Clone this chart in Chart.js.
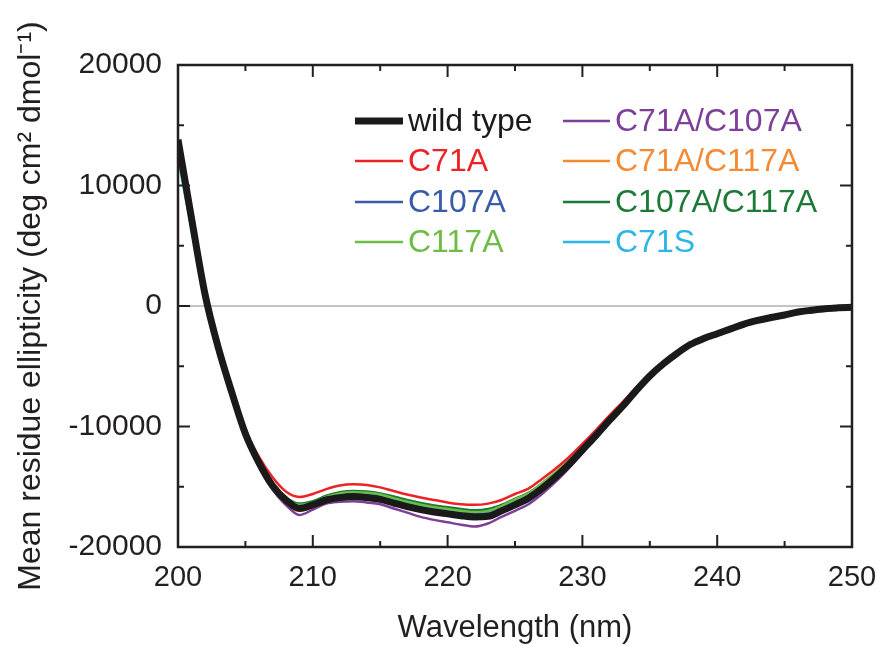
<!DOCTYPE html>
<html>
<head>
<meta charset="utf-8">
<script src="https://cdn.jsdelivr.net/npm/chart.js@4.4.0/dist/chart.umd.min.js"></script>
<style>
  html, body { margin: 0; padding: 0; background: #fff; }
  #wrap { width: 882px; height: 646px; }
</style>
</head>
<body>
<div id="wrap"><canvas id="cd"></canvas></div>
<script>
// wavelength, nm
const wavelengths = [200, 201, 202, 203, 204, 205, 206, 207, 208, 209,
  210, 211, 212, 213, 214, 215, 216, 217, 218, 219,
  220, 221, 222, 223, 224, 225, 226, 227, 228, 229,
  230, 231, 232, 233, 234, 235, 236, 237, 238, 239,
  240, 241, 242, 243, 244, 245, 246, 247, 248, 249, 250];

// mean residue ellipticity, deg cm2 dmol-1
const wildType = [13800, 7300, 1000, -3500, -7200, -10600, -13000, -14900, -16100, -16800,
  -16500, -16100, -15900, -15800, -15900, -16050, -16350, -16650, -16900, -17100,
  -17250, -17400, -17500, -17450, -17000, -16500, -15950, -15150, -14200, -13150,
  -11950, -10750, -9500, -8300, -7000, -5800, -4800, -3950, -3200, -2700,
  -2300, -1900, -1500, -1200, -950, -750, -500, -350, -220, -150, -100];
const c71a = [13300, 7000, 900, -3400, -7000, -10300, -12500, -14200, -15400, -15850,
  -15600, -15200, -14900, -14800, -14850, -15050, -15350, -15650, -15900, -16100,
  -16300, -16450, -16500, -16400, -16100, -15600, -15150, -14350, -13500, -12550,
  -11450, -10300, -9100, -7950, -6750, -5600, -4700, -3900, -3200, -2650,
  -2250, -1850, -1500, -1200, -950, -700, -500, -350, -220, -150, -100];
const c107a = [13000, 6900, 800, -3600, -7300, -10700, -13100, -15000, -16150, -16700,
  -16400, -16000, -15750, -15650, -15750, -15900, -16200, -16500, -16750, -16950,
  -17100, -17250, -17300, -17250, -16850, -16350, -15800, -15000, -14100, -13050,
  -11850, -10650, -9450, -8250, -6950, -5750, -4750, -3950, -3200, -2700,
  -2300, -1900, -1500, -1200, -950, -750, -500, -350, -220, -150, -100];
const c117a = [12800, 6800, 700, -3700, -7300, -10600, -12900, -14800, -16000, -16500,
  -16300, -15850, -15550, -15450, -15500, -15650, -15950, -16250, -16500, -16700,
  -16850, -17000, -17100, -17000, -16600, -16050, -15550, -14700, -13800, -12800,
  -11650, -10500, -9300, -8150, -6900, -5700, -4750, -3950, -3200, -2700,
  -2300, -1900, -1500, -1200, -950, -750, -500, -350, -220, -150, -100];
const c71aC107a = [13200, 7100, 900, -3600, -7400, -10800, -13300, -15200, -16500, -17350,
  -16900, -16400, -16250, -16200, -16300, -16450, -16800, -17150, -17500, -17750,
  -17950, -18150, -18300, -18050, -17500, -17000, -16450, -15600, -14600, -13450,
  -12200, -10950, -9650, -8400, -7050, -5850, -4850, -4000, -3250, -2700,
  -2300, -1900, -1500, -1200, -950, -750, -500, -350, -220, -150, -100];
const c71aC117a = [12900, 6900, 800, -3700, -7400, -10800, -13200, -15100, -16500, -17000,
  -16700, -16200, -15950, -15850, -15950, -16100, -16400, -16700, -16950, -17150,
  -17300, -17450, -17500, -17400, -17000, -16450, -15900, -15100, -14150, -13100,
  -11900, -10700, -9450, -8250, -6950, -5750, -4800, -3950, -3200, -2700,
  -2300, -1900, -1500, -1200, -950, -750, -500, -350, -220, -150, -100];
const c107aC117a = [13100, 7000, 900, -3500, -7200, -10500, -12800, -14700, -15900, -16400,
  -16200, -15750, -15450, -15350, -15400, -15550, -15800, -16100, -16350, -16550,
  -16700, -16850, -16950, -16850, -16500, -16000, -15500, -14750, -13850, -12850,
  -11700, -10550, -9350, -8200, -6900, -5700, -4750, -3950, -3200, -2700,
  -2300, -1900, -1500, -1200, -950, -750, -500, -350, -220, -150, -100];
const c71s = [12300, 6400, 500, -3800, -7400, -10700, -13000, -14900, -16000, -16600,
  -16350, -15950, -15700, -15600, -15650, -15800, -16100, -16400, -16650, -16850,
  -17000, -17100, -17150, -17050, -16700, -16200, -15700, -14950, -14000, -13000,
  -11850, -10650, -9450, -8250, -6950, -5750, -4750, -3950, -3200, -2700,
  -2300, -1900, -1500, -1200, -950, -750, -500, -350, -220, -150, -100];

const seriesLabels = ['wild type', 'C71A', 'C107A', 'C117A',
  'C71A/C107A', 'C71A/C117A', 'C107A/C117A', 'C71S'];
const seriesValues = [wildType, c71a, c107a, c117a, c71aC107a, c71aC117a, c107aC117a, c71s];
const seriesColors = ['#1a1a1a', '#ec2227', '#3a5ca8', '#6dbd45',
  '#7d3f98', '#f58a32', '#1b7a35', '#2cb5e6'];

const xTicks = [200, 210, 220, 230, 240, 250];
const yTicks = [-20000, -10000, 0, 10000, 20000];

const FONT = '"Liberation Sans", Arial, sans-serif';
const INK = '#231f20';

// frame, inward ticks (major + minor) on all four sides, zero line
const framePlugin = {
    id: 'frame',
    beforeDatasetsDraw(chart) {
        const { ctx, chartArea: a, scales } = chart;
        const y0 = scales.y.getPixelForValue(0);
        ctx.save();
        ctx.strokeStyle = '#8a8a8a';
        ctx.lineWidth = 1.2;
        ctx.beginPath();
        ctx.moveTo(a.left, y0);
        ctx.lineTo(a.right, y0);
        ctx.stroke();
        ctx.restore();
    },
    afterDatasetsDraw(chart) {
        const { ctx, chartArea: a, scales } = chart;
        ctx.save();
        ctx.strokeStyle = INK;
        ctx.lineWidth = 2.5;
        ctx.strokeRect(a.left, a.top, a.right - a.left, a.bottom - a.top);
        ctx.lineWidth = 2;
        ctx.beginPath();
        for (let v = 200; v <= 250; v += 5) {
            const px = scales.x.getPixelForValue(v);
            const len = v % 10 === 0 ? 12 : 6;
            ctx.moveTo(px, a.bottom); ctx.lineTo(px, a.bottom - len);
            ctx.moveTo(px, a.top); ctx.lineTo(px, a.top + len);
        }
        for (let v = -20000; v <= 20000; v += 5000) {
            const py = scales.y.getPixelForValue(v);
            const len = v % 10000 === 0 ? 12 : 6;
            ctx.moveTo(a.left, py); ctx.lineTo(a.left + len, py);
            ctx.moveTo(a.right, py); ctx.lineTo(a.right - len, py);
        }
        ctx.stroke();
        ctx.restore();
    }
};

// two-column legend inside the plot
const legendPlugin = {
    id: 'boxLegend',
    afterDraw(chart) {
        const { ctx } = chart;
        const cols = [{ x0: 355, x1: 403, tx: 408 }, { x0: 563, x1: 610, tx: 615 }];
        const rows = [121, 161, 202, 242];
        ctx.save();
        ctx.font = '32px ' + FONT;
        ctx.textBaseline = 'middle';
        chart.data.datasets.forEach((ds, i) => {
            const c = cols[Math.floor(i / 4)];
            const y = rows[i % 4];
            ctx.strokeStyle = ds.borderColor;
            ctx.lineWidth = i === 0 ? 7 : 2.5;
            ctx.beginPath();
            ctx.moveTo(c.x0, y);
            ctx.lineTo(c.x1, y);
            ctx.stroke();
            ctx.fillStyle = ds.borderColor;
            ctx.fillText(ds.label, c.tx, y + 1);
        });
        ctx.restore();
    }
};

const datasets = seriesLabels.map((label, i) => ({
    label: label,
    data: wavelengths.map((w, j) => ({ x: w, y: seriesValues[i][j] })),
    borderColor: seriesColors[i],
    borderWidth: i === 0 ? 7 : 2.5,
    pointRadius: 0,
    cubicInterpolationMode: 'monotone',
    fill: false
}));

new Chart(document.getElementById('cd'), {
    type: 'line',
    data: { datasets: datasets },
    options: {
        responsive: true,
        maintainAspectRatio: false,
        animation: false,
        layout: { padding: { top: 65, right: 30, left: 0, bottom: 0 } },
        plugins: { legend: { display: false }, tooltip: { enabled: false } },
        scales: {
            x: {
                type: 'linear',
                min: 200,
                max: 250,
                afterFit: s => { s.height = 99; s.paddingLeft = 0; s.paddingRight = 0; },
                afterBuildTicks: s => { s.ticks = xTicks.map(v => ({ value: v })); },
                grid: { display: false, drawTicks: false },
                border: { display: false },
                ticks: { color: INK, padding: 14, font: { family: FONT, size: 29 }, callback: v => String(v) },
                title: {
                    display: true,
                    text: 'Wavelength (nm)',
                    color: INK,
                    font: { family: FONT, size: 31, lineHeight: 1.1 },
                    padding: { top: 0, bottom: 0 }
                }
            },
            y: {
                type: 'linear',
                min: -20000,
                max: 20000,
                afterFit: s => { s.width = 178; s.paddingTop = 0; s.paddingBottom = 0; },
                afterBuildTicks: s => { s.ticks = yTicks.map(v => ({ value: v })); },
                grid: { display: false, drawTicks: false },
                border: { display: false },
                ticks: { color: INK, padding: 16, font: { family: FONT, size: 30 }, callback: v => String(v) },
                title: {
                    display: true,
                    text: 'Mean residue ellipticity (deg cm\u00b2 dmol\u207b\u00b9)',
                    color: INK,
                    font: { family: FONT, size: 32, lineHeight: 1.1 },
                    padding: { top: 14, bottom: 0 }
                }
            }
        }
    },
    plugins: [framePlugin, legendPlugin]
});
</script>
</body>
</html>
